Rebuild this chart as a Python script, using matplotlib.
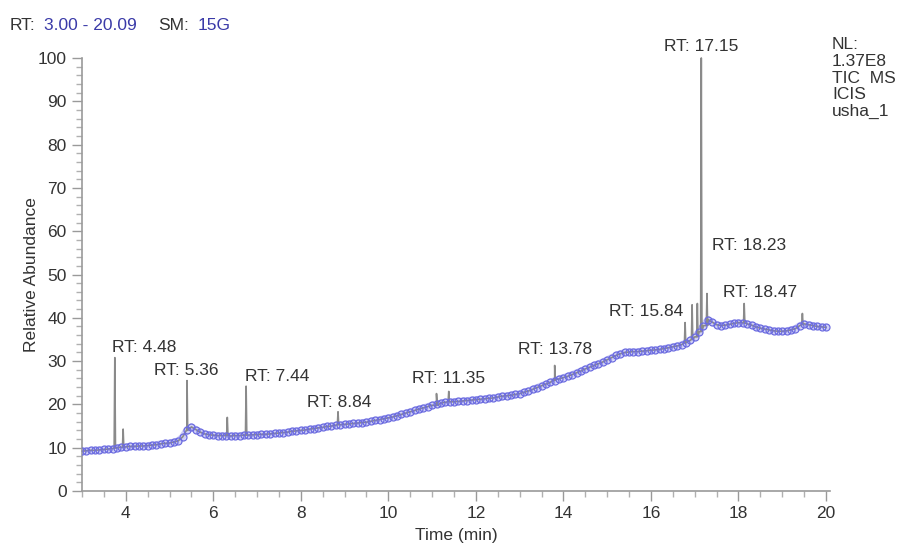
import numpy as np
import matplotlib
matplotlib.use("Agg")
import matplotlib.pyplot as plt
from matplotlib.ticker import MultipleLocator

plt.rcParams['font.family'] = ['Liberation Sans', 'DejaVu Sans']

# baseline (blue points), one reading every 0.1 min from 3.0 to 20.0
base_t = np.round(np.arange(3.0, 20.05, 0.1), 2)
base_y = [
    9.2, 9.3, 9.4, 9.4, 9.5, 9.6, 9.7, 9.8, 10.0, 10.1,
    10.2, 10.3, 10.3, 10.4, 10.4, 10.5, 10.6, 10.7, 10.9, 11.0,
    11.1, 11.3, 11.6, 12.5, 14.2, 14.8, 14.2, 13.6, 13.2, 13.0,
    12.9, 12.8, 12.8, 12.8, 12.7, 12.8, 12.8, 12.9, 12.9, 13.0,
    13.0, 13.1, 13.1, 13.2, 13.3, 13.4, 13.5, 13.6, 13.8, 13.9,
    14.0, 14.1, 14.3, 14.4, 14.6, 14.7, 14.9, 15.0, 15.2, 15.3,
    15.4, 15.5, 15.6, 15.7, 15.8, 15.9, 16.1, 16.3, 16.5, 16.7,
    16.9, 17.1, 17.4, 17.7, 18.0, 18.3, 18.6, 18.9, 19.2, 19.5,
    19.8, 20.1, 20.3, 20.5, 20.6, 20.6, 20.7, 20.8, 20.9, 21.0,
    21.1, 21.2, 21.3, 21.4, 21.5, 21.7, 21.9, 22.0, 22.1, 22.3,
    22.5, 22.8, 23.1, 23.5, 23.9, 24.3, 24.7, 25.1, 25.5, 25.9,
    26.2, 26.5, 26.9, 27.3, 27.7, 28.2, 28.6, 29.0, 29.4, 29.8,
    30.3, 30.8, 31.3, 31.7, 32.0, 32.1, 32.2, 32.2, 32.3, 32.4,
    32.5, 32.6, 32.7, 32.9, 33.1, 33.3, 33.5, 33.8, 34.2, 34.8,
    35.6, 36.8, 38.2, 39.6, 39.0, 38.4, 38.2, 38.3, 38.5, 38.7,
    38.9, 38.8, 38.6, 38.3, 37.9, 37.6, 37.4, 37.2, 37.0, 36.9,
    36.9, 37.0, 37.2, 37.5, 38.2, 38.6, 38.4, 38.2, 38.0, 37.9,
    37.8,
]

# peaks of the TIC trace: apex time, apex height, height at the foot
peak_t = [3.75, 3.94, 5.40, 6.32, 6.75, 8.85, 11.10, 11.38, 13.80,
          16.78, 16.94, 17.06, 17.15, 17.28, 18.13, 19.46]
peak_h = [30.8, 14.3, 25.5, 17.0, 24.2, 18.3, 22.5, 23.0, 29.0,
          38.9, 43.0, 43.3, 100.0, 45.6, 43.3, 41.0]
peak_base = [9.9, 10.1, 14.0, 12.8, 12.9, 15.3, 19.8, 20.6, 25.7,
             34.2, 35.0, 35.6, 36.8, 38.2, 38.8, 38.4]

# peak labels
label_text = ["RT: 4.48", "RT: 5.36", "RT: 7.44", "RT: 8.84", "RT: 11.35",
              "RT: 13.78", "RT: 15.84", "RT: 17.15", "RT: 18.23", "RT: 18.47"]
label_x = [4.42, 5.38, 7.46, 8.87, 11.38, 13.80, 15.90, 17.15, 18.25, 18.50]
label_y = [33.1, 27.8, 26.4, 20.4, 25.9, 32.6, 41.4, 102.6, 56.7, 45.8]

# build the gray trace: baseline points plus a narrow spike per peak
tr = list(zip(base_t, base_y))
for t, h, b in zip(peak_t, peak_h, peak_base):
    tr += [(t - 0.015, b), (t, h), (t + 0.015, b)]
tr.sort()
tr_t = [p[0] for p in tr]
tr_y = [p[1] for p in tr]

fig = plt.figure(figsize=(9.04, 5.44), dpi=100)
ax = fig.add_axes([0.0907, 0.0974, 0.8274, 0.796])

ax.plot(base_t, base_y, color='#cfcff7', lw=5, solid_capstyle='round', zorder=1)
ax.plot(tr_t, tr_y, color='#8a8a8a', lw=1.2, zorder=2, clip_on=False)
ax.plot(base_t, base_y, ls='none', marker='o', ms=5, mfc='none',
        mec='#6b6be0', mew=0.9, zorder=3)

for s, x, y in zip(label_text, label_x, label_y):
    ax.text(x, y, s, ha='center', va='center', fontsize=12.5,
            color='#333333', clip_on=False)

ax.set_xlim(3.0, 20.09)
ax.set_ylim(0, 100)
ax.xaxis.set_major_locator(MultipleLocator(2))
ax.xaxis.set_minor_locator(MultipleLocator(0.5))
ax.yaxis.set_major_locator(MultipleLocator(10))
ax.yaxis.set_minor_locator(MultipleLocator(2))
ax.set_xticks([4, 6, 8, 10, 12, 14, 16, 18, 20])

for sp in ['top', 'right']:
    ax.spines[sp].set_visible(False)
for sp in ['left', 'bottom']:
    ax.spines[sp].set_color('#9a9a9a')
    ax.spines[sp].set_linewidth(1.2)

ax.tick_params(which='major', length=7, width=1, color='#9a9a9a',
               labelsize=12.5, labelcolor='#333333', pad=4)
ax.tick_params(which='minor', length=4, width=1, color='#b0b0b0')

ax.set_xlabel('Time (min)', fontsize=12.5, color='#333333', labelpad=5)
ax.set_ylabel('Relative Abundance', fontsize=12.5, color='#333333', labelpad=-1)

# header
fig.text(10 / 904, 1 - 25 / 544, 'RT:', fontsize=12.5, color='#333333', va='center')
fig.text(44 / 904, 1 - 25 / 544, '3.00 - 20.09', fontsize=12.5, color='#3a3aa8', va='center')
fig.text(158 / 904, 1 - 25 / 544, 'SM:', fontsize=12.5, color='#333333', va='center')
fig.text(198 / 904, 1 - 25 / 544, '15G', fontsize=12.5, color='#3a3aa8', va='center')

fig.text(832 / 904, 1 - 37 / 544, 'NL:\n1.37E8\nTIC  MS\nICIS\nusha_1',
         fontsize=12.5, color='#333333', va='top', ha='left', linespacing=1.15)

fig.savefig('out.png', dpi=100)
